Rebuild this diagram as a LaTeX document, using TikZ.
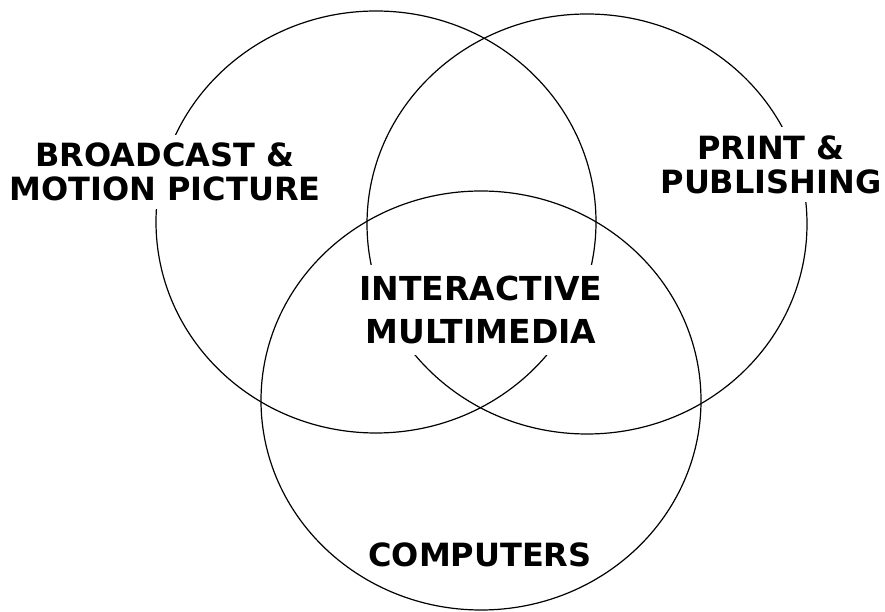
\documentclass[tikz,border=0pt]{standalone}
\usepackage{fontspec}
\setmainfont{DejaVu Sans}
\usepackage{tikz}

\begin{document}
\begin{tikzpicture}[x=1pt,y=1pt,
    ring/.style={draw,line width=1.2pt},
    tag/.style={fill=white,align=center,inner xsep=5pt,inner ysep=8pt,
        font=\bfseries\fontsize{32}{34}\selectfont}]
    \useasboundingbox (0,0) rectangle (885,612);
    % the three fields
    \draw[ring] (376,390) ellipse [x radius=220pt,y radius=211pt];
    \draw[ring] (587,388) ellipse [x radius=220pt,y radius=210pt];
    \draw[ring] (481,211.5) ellipse [x radius=220pt,y radius=209.5pt];
    % names of the fields, boxed in white so the rings break under them
    \node[tag] (bcast) at (165,440) {BROADCAST \&\\MOTION PICTURE};
    \node[tag] (print) at (771,447.5) {PRINT \&\\PUBLISHING};
    \node[tag,font=\bfseries\fontsize{33}{43}\selectfont,inner ysep=11pt] (imm) at (481,302) {INTERACTIVE\\MULTIMEDIA};
    \node[tag] (comp) at (480,57.5) {COMPUTERS};
\end{tikzpicture}
\end{document}
